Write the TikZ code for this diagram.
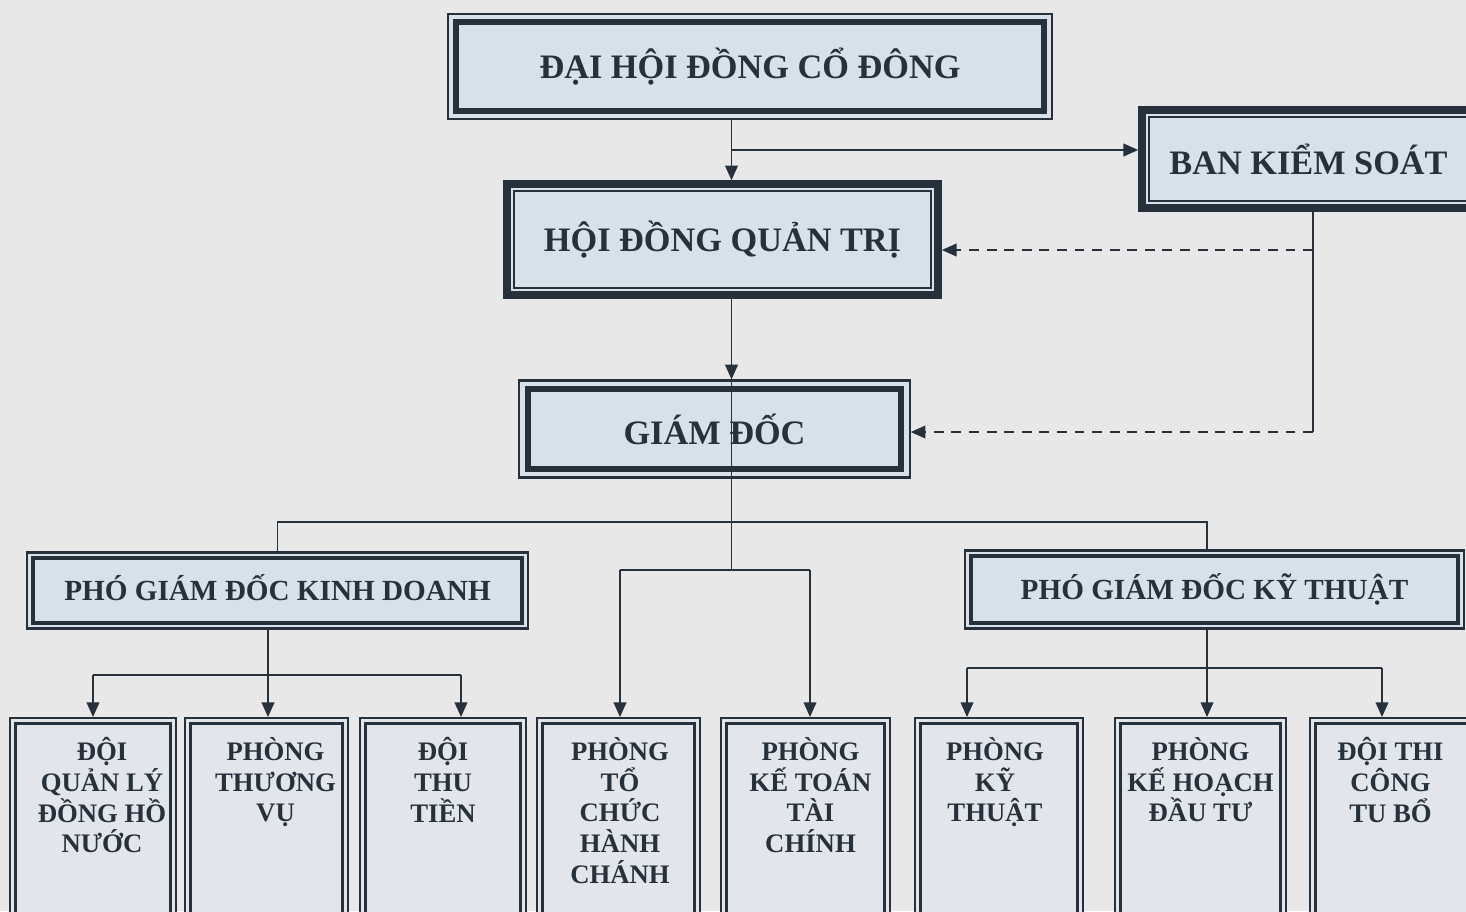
\documentclass[tikz,border=0pt]{standalone}
\usepackage{fontspec}
\setmainfont{Liberation Serif}
\usepackage{tikz}
\usetikzlibrary{arrows.meta}
\usetikzlibrary{positioning}
\definecolor{paper}{HTML}{E8E8E8}
\definecolor{boxfill}{HTML}{D8E0E9}
\definecolor{lowfill}{HTML}{E2E6EB}
\definecolor{ink}{HTML}{27313B}
\newcommand\topfont{\fontsize{9.75}{12}\selectfont\bfseries}
\newcommand\vpfont{\fontsize{8.3}{10}\selectfont\bfseries}
\newcommand\lowfont{\fontsize{7.6}{8.7}\selectfont\bfseries}
\tikzstyle{unit}=[draw=ink, fill=boxfill, text=ink, inner sep=0pt, align=center]
\tikzstyle{thinthick}=[unit, font=\topfont, line width=0.6pt, path picture={\draw[ink, line width=1.7pt] ([shift={(2.4pt,2.4pt)}]path picture bounding box.south west) rectangle ([shift={(-2.4pt,-2.4pt)}]path picture bounding box.north east);}]
\tikzstyle{thickthin}=[unit, font=\topfont, line width=2.1pt, path picture={\draw[ink, line width=0.6pt] ([shift={(2pt,2pt)}]path picture bounding box.south west) rectangle ([shift={(-2pt,-2pt)}]path picture bounding box.north east);}]
\tikzstyle{vpbox}=[unit, font=\vpfont, line width=0.6pt, path picture={\draw[ink, line width=1pt] ([shift={(1.6pt,1.6pt)}]path picture bounding box.south west) rectangle ([shift={(-1.6pt,-1.6pt)}]path picture bounding box.north east);}]
\tikzstyle{lowbox}=[unit, fill=lowfill, line width=0.5pt, minimum height=2.17cm, path picture={\draw[ink, line width=0.8pt] ([shift={(1.5pt,1.5pt)}]path picture bounding box.south west) rectangle ([shift={(-1.5pt,-1.5pt)}]path picture bounding box.north east);}]
\tikzstyle{lowtext}=[text=ink, font=\lowfont, align=center, inner sep=0pt]
\tikzstyle{link}=[draw=ink, line width=0.55pt]
\tikzstyle{arr}=[link, -{Triangle[width=3.6pt,length=4.2pt]}]

\begin{document}
\begin{tikzpicture}[x=0.01cm, y=-0.01cm]
    \fill[paper] (0,0) rectangle (1466,911);
    \useasboundingbox (0,0) rectangle (1466,911);

    % top levels
    \node[thinthick, minimum width=6.04cm, minimum height=1.05cm] (dh) at (750,66.5) {\raisebox{-0.05cm}{ĐẠI HỘI ĐỒNG CỔ ĐÔNG}};
    \node[thickthin, minimum width=3.33cm, minimum height=0.98cm] (bks) at (1308.5,159) {BAN KIỂM SOÁT};
    \node[thickthin, minimum width=4.31cm, minimum height=1.11cm] (hd) at (722.5,239.5) {\raisebox{-0.03cm}{HỘI ĐỒNG QUẢN TRỊ}};
    \node[thinthick, minimum width=3.90cm, minimum height=0.97cm] (gd) at (714.5,429) {GIÁM ĐỐC};

    % deputies
    \node[vpbox, minimum width=5.00cm, minimum height=0.76cm] (pgkd) at (277.5,590.5) {\raisebox{0.06cm}{PHÓ GIÁM ĐỐC KINH DOANH}};
    \node[vpbox, minimum width=4.98cm, minimum height=0.78cm] (pgkt) at (1214.5,589.5) {\raisebox{0.04cm}{PHÓ GIÁM ĐỐC KỸ THUẬT}};

    % departments
    \node[lowbox, minimum width=1.66cm] (b1) at (93,826.5) {};
    \node[lowbox, minimum width=1.63cm] (b2) at (266.5,826.5) {};
    \node[lowbox, minimum width=1.66cm] (b3) at (443,826.5) {};
    \node[lowbox, minimum width=1.63cm] (b4) at (618.5,826.5) {};
    \node[lowbox, minimum width=1.69cm] (b5) at (805.5,826.5) {};
    \node[lowbox, minimum width=1.68cm] (b6) at (999,826.5) {};
    \node[lowbox, minimum width=1.71cm] (b7) at (1200.5,826.5) {};
    \node[lowbox, minimum width=1.65cm] (b8) at (1392.5,826.5) {};
    \node[lowtext, below=0.2cm of b1.north, xshift=0.09cm] (t1) {ĐỘI\\QUẢN LÝ\\ĐỒNG HỒ\\NƯỚC};
    \node[lowtext, below=0.2cm of b2.north, xshift=0.09cm] (t2) {PHÒNG\\THƯƠNG\\VỤ};
    \node[lowtext, below=0.2cm of b3.north] (t3) {ĐỘI\\THU\\TIỀN};
    \node[lowtext, below=0.2cm of b4.north, xshift=0.015cm] (t4) {PHÒNG\\TỔ\\CHỨC\\HÀNH\\CHÁNH};
    \node[lowtext, below=0.2cm of b5.north, xshift=0.05cm] (t5) {PHÒNG\\KẾ TOÁN\\TÀI\\CHÍNH};
    \node[lowtext, below=0.2cm of b6.north, xshift=-0.04cm] (t6) {PHÒNG\\KỸ\\THUẬT};
    \node[lowtext, below=0.2cm of b7.north] (t7) {PHÒNG\\KẾ HOẠCH\\ĐẦU TƯ};
    \node[lowtext, below=0.2cm of b8.north, xshift=-0.02cm] (t8) {ĐỘI THI\\CÔNG\\TU BỔ};

    % connectors
    \coordinate (spine) at (731.5,0);
    \coordinate (tap) at (731.5,150);
    \coordinate (ksline) at (1313,0);
    \coordinate (hdtap) at (1313,250);
    \coordinate (gdtap) at (1313,432);
    \coordinate (fork) at (731.5,522);
    \coordinate (mid) at (731.5,570);
    \coordinate (kdx) at (268,0);
    \coordinate (ktx) at (1207,0);
    \coordinate (kdl) at (93,675);
    \coordinate (kdr) at (461,675);
    \coordinate (ktl) at (967,668);
    \coordinate (ktr) at (1382,668);
    \coordinate (ml) at (620,570);
    \coordinate (mr) at (810,570);

    \draw[arr] (spine |- dh.south) -- (spine |- hd.north);
    \draw[arr] (tap) -- (tap -| bks.west);
    \draw[arr] (spine |- hd.south) -- (spine |- gd.north);
    \draw[link] (ksline |- bks.south) -- (gdtap);
    \draw[arr, dash pattern=on 2.8pt off 2.2pt] (hdtap) -- (hdtap -| hd.east);
    \draw[arr, dash pattern=on 2.8pt off 2.2pt] (gdtap) -- (gdtap -| gd.east);
    \draw[link] (spine |- gd.north) -- (mid);
    \draw[link] (pgkd.north) |- (fork) -| (ktx |- pgkt.north);
    \draw[link] (ml) -- (mr);
    \draw[arr] (ml) -- (ml |- b4.north);
    \draw[arr] (mr) -- (mr |- b5.north);
    \draw[link] (kdx |- pgkd.south) -- (kdx |- kdl);
    \draw[link] (kdl) -- (kdr);
    \draw[arr] (kdl) -- (kdl |- b1.north);
    \draw[arr] (kdx |- kdl) -- (kdx |- b2.north);
    \draw[arr] (kdr) -- (kdr |- b3.north);
    \draw[link] (ktx |- pgkt.south) -- (ktx |- ktl);
    \draw[link] (ktl) -- (ktr);
    \draw[arr] (ktl) -- (ktl |- b6.north);
    \draw[arr] (ktx |- ktl) -- (ktx |- b7.north);
    \draw[arr] (ktr) -- (ktr |- b8.north);
\end{tikzpicture}
\end{document}
